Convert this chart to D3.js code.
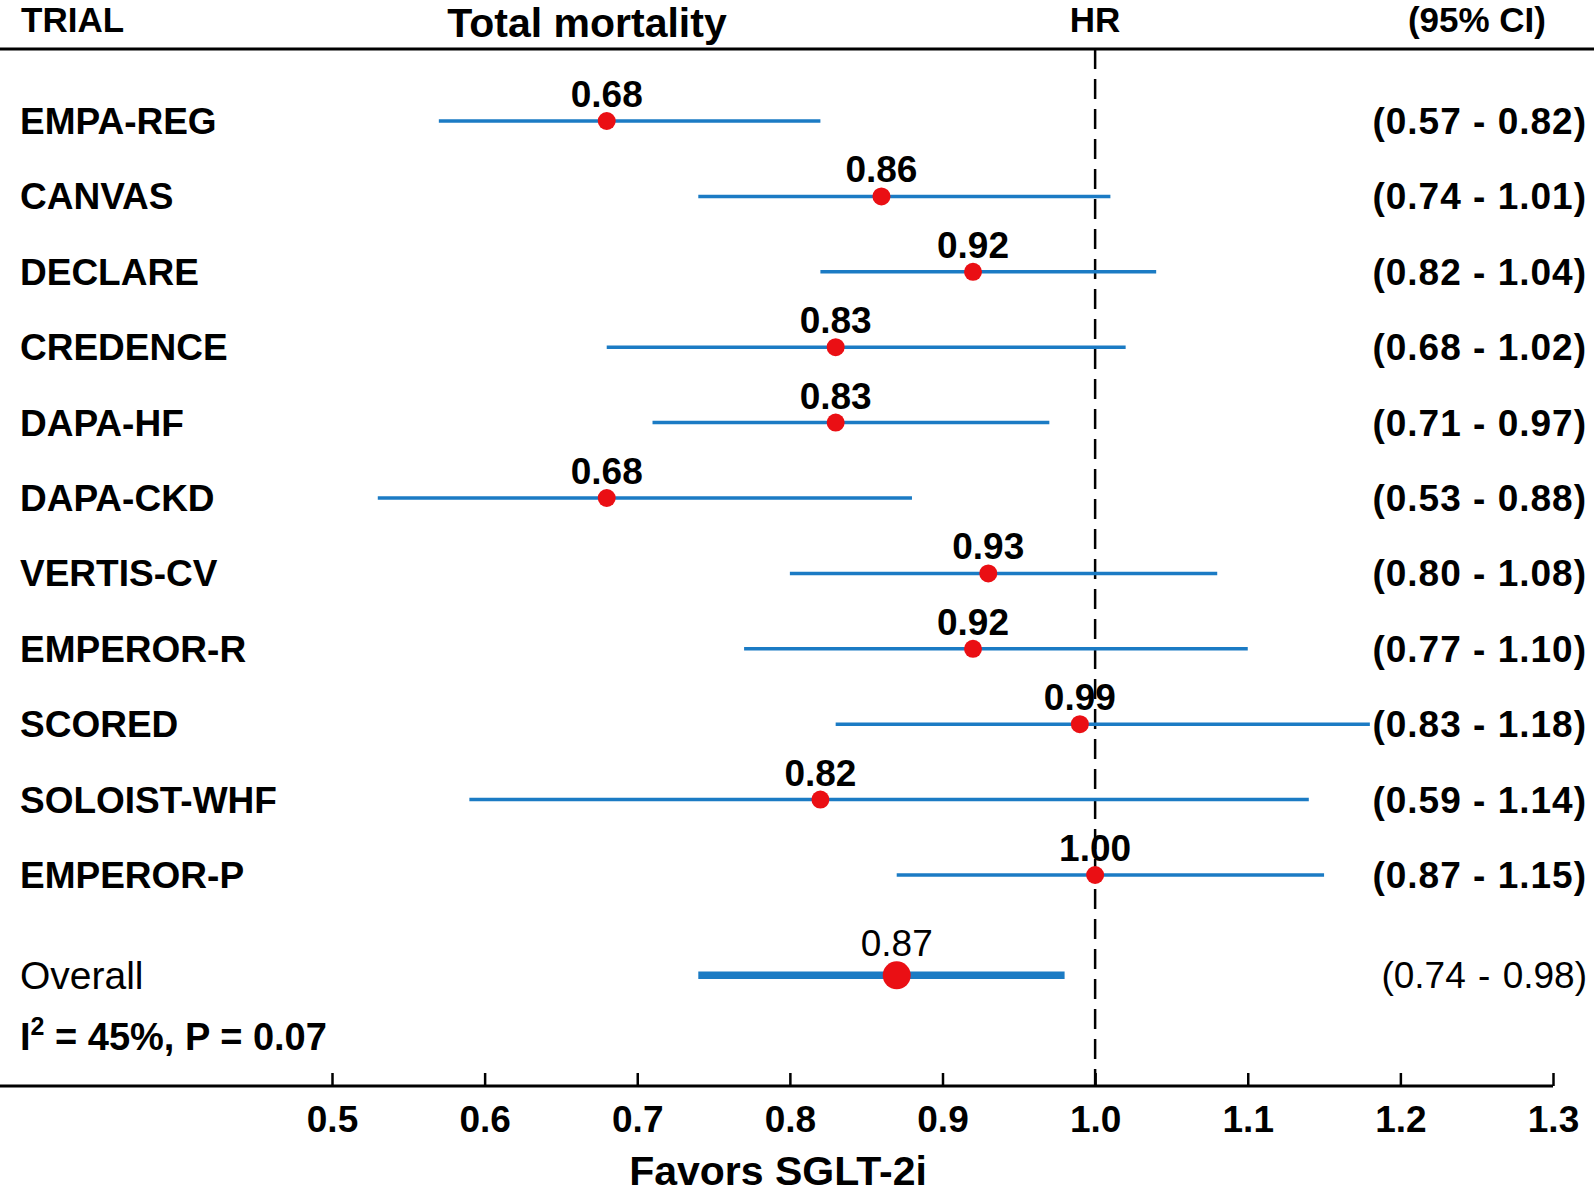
<!DOCTYPE html>
<html>
<head>
<meta charset="utf-8">
<script src="https://cdn.jsdelivr.net/npm/d3@7"></script>
<style>
  body { margin: 0; background: #fff; }
  svg text { font-family: "Liberation Sans", Arial, sans-serif; fill: #000; }
</style>
</head>
<body>
<div id="chart"></div>
<script>
// forest plot data
var trials = ["EMPA-REG", "CANVAS", "DECLARE", "CREDENCE", "DAPA-HF", "DAPA-CKD",
              "VERTIS-CV", "EMPEROR-R", "SCORED", "SOLOIST-WHF", "EMPEROR-P"];
var hr    = [0.68, 0.86, 0.92, 0.83, 0.83, 0.68, 0.93, 0.92, 0.99, 0.82, 1.00];
var lower = [0.57, 0.74, 0.82, 0.68, 0.71, 0.53, 0.80, 0.77, 0.83, 0.59, 0.87];
var upper = [0.82, 1.01, 1.04, 1.02, 0.97, 0.88, 1.08, 1.10, 1.18, 1.14, 1.15];
var overall = {name: "Overall", hr: 0.87, lower: 0.74, upper: 0.98};
var tickValues = [0.5, 0.6, 0.7, 0.8, 0.9, 1.0, 1.1, 1.2, 1.3];

var width = 1594, height = 1194;
var blue = "#1b7bc4", red = "#ea0f14";

var svg = d3.select("#chart").append("svg")
    .attr("width", width)
    .attr("height", height);

var x = d3.scaleLinear().domain([0.5, 1.3]).range([332, 1553]);
// row index -> y (overall sits a bit lower than the trials)
var y = d3.scaleLinear().domain([0, 1]).range([121, 196.4]);
var overallRow = trials.length + 0.33;
var axisY = 1086, headerY = 49;

var fmt = d3.format(".2f");

// header
svg.append("text").attr("x", 21).attr("y", 32).attr("font-size", 35).attr("font-weight", "bold").text("TRIAL");
svg.append("text").attr("x", 587).attr("y", 37).attr("font-size", 41).attr("font-weight", "bold")
    .attr("text-anchor", "middle").text("Total mortality");
svg.append("text").attr("x", x(1.0)).attr("y", 32).attr("font-size", 35).attr("font-weight", "bold")
    .attr("text-anchor", "middle").text("HR");
svg.append("text").attr("x", 1546).attr("y", 32).attr("font-size", 35).attr("font-weight", "bold")
    .attr("text-anchor", "end").text("(95% CI)");
svg.append("line").attr("x1", 0).attr("x2", width).attr("y1", headerY).attr("y2", headerY)
    .style("stroke", "#000").style("stroke-width", 3);

// reference line at HR = 1
svg.append("line")
    .attr("x1", x(1.0)).attr("x2", x(1.0))
    .attr("y1", headerY).attr("y2", axisY)
    .style("stroke", "#000").style("stroke-width", 2.5)
    .style("stroke-dasharray", "20,10");

var rows = trials.map(function(t, i) {
  return {name: t, hr: hr[i], lower: lower[i], upper: upper[i], i: i};
});

var g = svg.selectAll(".row").data(rows).enter().append("g").attr("class", "row");

g.append("line")
    .attr("x1", d => x(d.lower)).attr("x2", d => x(d.upper))
    .attr("y1", d => y(d.i)).attr("y2", d => y(d.i))
    .style("stroke", blue).style("stroke-width", 3.5);

g.append("circle")
    .attr("cx", d => x(d.hr)).attr("cy", d => y(d.i)).attr("r", 9)
    .style("fill", red);

g.append("text")
    .attr("x", d => x(d.hr)).attr("y", d => y(d.i) - 14)
    .attr("text-anchor", "middle").attr("font-size", 37).attr("font-weight", "bold")
    .text(d => fmt(d.hr));

g.append("text")
    .attr("x", 20).attr("y", d => y(d.i) + 13)
    .attr("font-size", 37).attr("font-weight", "bold")
    .text(d => d.name);

g.append("text")
    .attr("x", 1587).attr("y", d => y(d.i) + 13)
    .attr("text-anchor", "end").attr("font-size", 37).attr("font-weight", "bold")
    .style("letter-spacing", "1px")
    .text(d => "(" + fmt(d.lower) + " - " + fmt(d.upper) + ")");

// overall
var oy = y(overallRow);
svg.append("line")
    .attr("x1", x(overall.lower)).attr("x2", x(overall.upper))
    .attr("y1", oy).attr("y2", oy)
    .style("stroke", blue).style("stroke-width", 7.5);
svg.append("circle").attr("cx", x(overall.hr)).attr("cy", oy).attr("r", 14).style("fill", red);
svg.append("text").attr("x", x(overall.hr)).attr("y", oy - 19)
    .attr("text-anchor", "middle").attr("font-size", 37).text(fmt(overall.hr));
svg.append("text").attr("x", 20).attr("y", oy + 14).attr("font-size", 39).text(overall.name);
svg.append("text").attr("x", 1587).attr("y", oy + 13)
    .attr("text-anchor", "end").attr("font-size", 37)
    .style("word-spacing", "2px")
    .text("(" + fmt(overall.lower) + " - " + fmt(overall.upper) + ")");

var het = svg.append("text").attr("x", 20).attr("y", 1050).attr("font-size", 38).attr("font-weight", "bold");
het.append("tspan").text("I");
het.append("tspan").attr("font-size", 25).attr("dy", -15).text("2");
het.append("tspan").attr("dy", 15).text(" = 45%, P = 0.07");

// x axis
svg.append("line").attr("x1", 0).attr("x2", x(1.3)).attr("y1", axisY).attr("y2", axisY)
    .style("stroke", "#000").style("stroke-width", 3);

var xAxis = d3.axisBottom(x).tickValues(tickValues).tickFormat(d3.format(".1f"))
    .tickSizeInner(-13).tickSizeOuter(0).tickPadding(20);

var ax = svg.append("g").attr("transform", `translate(0,${axisY})`).call(xAxis);
ax.select(".domain").remove();
ax.selectAll(".tick line").style("stroke", "#000").style("stroke-width", 2.5);
ax.selectAll(".tick text")
    .attr("font-size", 37).attr("font-weight", "bold")
    .style("font-family", "'Liberation Sans', Arial, sans-serif").style("fill", "#000");

svg.append("text").attr("x", 778).attr("y", 1185).attr("text-anchor", "middle")
    .attr("font-size", 41).attr("font-weight", "bold").text("Favors SGLT-2i");
</script>
</body>
</html>
